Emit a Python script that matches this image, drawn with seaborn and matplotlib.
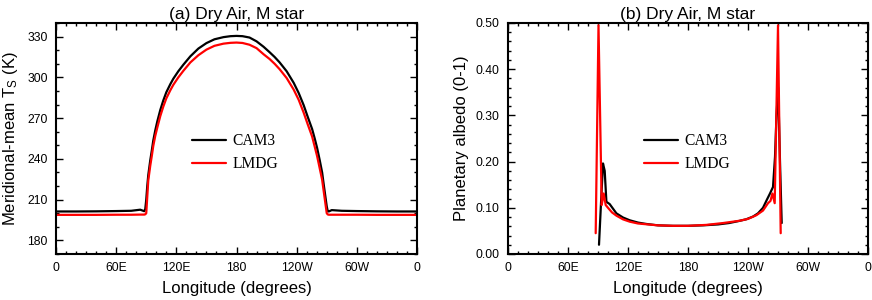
import matplotlib
matplotlib.use("Agg")
import matplotlib.pyplot as plt
from matplotlib.ticker import MultipleLocator, FixedLocator, FormatStrFormatter
import seaborn as sns

# (a) meridional-mean surface temperature (K)
lon_ts = [0, 20, 40, 60, 75, 84, 88, 89, 90, 91, 92, 94, 95.5, 97, 99, 101,
          104, 107, 110, 114, 117, 122, 127, 134, 142, 150, 158, 167, 174,
          180, 186, 193, 200, 207, 213, 218, 223, 230, 237, 242, 247, 251,
          255.4, 258, 260.4, 263, 265.4, 267, 268.5, 270, 271, 272, 275, 285,
          300, 320, 340, 360]
cam3_ts = [201.3, 201.3, 201.4, 201.6, 201.8, 202.6, 201.5, 203, 210, 220,
           228, 239, 246, 253.5, 261, 267.5, 276, 283, 289, 295, 299,
           304.5, 309.3, 315.5, 321.2, 325.2, 328, 329.6, 330.3, 330.5, 330.3,
           329.3, 326.5, 322.5, 318.5, 315, 311, 304.5, 296, 288.5, 279.5,
           271, 262, 255, 248, 239, 230, 221, 213, 205, 201.5, 201.3, 202.3,
           201.8, 201.6, 201.4, 201.3, 201.3]
lmdg_ts = [198.8, 198.8, 198.8, 198.9, 198.9, 199.0, 199.0, 199.2, 200, 212,
           224, 235, 242, 249.5, 257, 263, 271.5, 278.5, 284.5, 290.5, 294.5,
           300, 304.8, 311, 316.3, 320.4, 323.2, 324.8, 325.4, 325.6, 325.3,
           324, 321.5, 317, 313.5, 310, 306, 299.5, 291, 283.5, 274, 265.5,
           256.5, 249, 242, 233, 224.6, 216, 208, 200, 199.1, 198.9, 198.9,
           198.9, 198.9, 198.8, 198.8, 198.8]

# (b) planetary albedo (0-1), day side only
lon_alb_cam3 = [91, 93, 95, 96.7, 98.4, 101.7, 108.4, 115, 121.7, 130, 138.4,
                150, 165, 180, 195, 210, 221, 230, 238, 245, 250, 255, 259,
                262, 265, 267, 268.5, 270.2, 272, 273.7]
cam3_alb = [0.02, 0.11, 0.196, 0.18, 0.113, 0.108, 0.088, 0.079, 0.073, 0.068,
            0.065, 0.062, 0.061, 0.061, 0.062, 0.064, 0.067, 0.071, 0.075,
            0.081, 0.088, 0.1, 0.118, 0.131, 0.145, 0.21, 0.30, 0.36, 0.2,
            0.067]
lon_alb_lmdg = [87.7, 90.5, 93.7, 95.7, 97.7, 100, 104, 108.4, 115, 121.7, 130,
                140, 150, 165, 180, 198.4, 215, 231.7, 240, 248.4, 255, 260,
                262.5, 264.4, 266.7, 270, 272.7]
lmdg_alb = [0.045, 0.495, 0.106, 0.131, 0.106, 0.1, 0.09, 0.083, 0.075, 0.07,
            0.066, 0.064, 0.062, 0.061, 0.061, 0.063, 0.067, 0.072, 0.076,
            0.084, 0.094, 0.11, 0.115, 0.131, 0.11, 0.495, 0.045]

xtick_labels = ["0", "60E", "120E", "180", "120W", "60W", "0"]

sns.set_style("ticks")
plt.rcParams["font.family"] = ["Liberation Sans", "DejaVu Sans"]
plt.rcParams["mathtext.default"] = "regular"
for key in ["text.color", "axes.labelcolor", "axes.edgecolor",
            "xtick.color", "ytick.color"]:
    plt.rcParams[key] = "black"

fig = plt.figure(figsize=(8.72, 3.0), dpi=100)
ax1 = fig.add_axes([56 / 872, 46 / 300, 361 / 872, 231 / 300])
ax2 = fig.add_axes([508 / 872, 46 / 300, 360 / 872, 231 / 300])

sns.lineplot(x=lon_ts, y=cam3_ts, color="black", lw=1.6, label="CAM3", ax=ax1)
sns.lineplot(x=lon_ts, y=lmdg_ts, color="#ff0000", lw=1.6, label="LMDG", ax=ax1)
sns.lineplot(x=lon_alb_cam3, y=cam3_alb, color="black", lw=1.6, label="CAM3", ax=ax2)
sns.lineplot(x=lon_alb_lmdg, y=lmdg_alb, color="#ff0000", lw=1.6, label="LMDG", ax=ax2)


def style_axes(ax, title, ylabel):
    ax.set_xlim(0, 360)
    ax.xaxis.set_major_locator(FixedLocator(range(0, 361, 60)))
    ax.set_xticklabels(xtick_labels)
    ax.xaxis.set_minor_locator(MultipleLocator(10))
    ax.tick_params(which="both", direction="in", top=True, right=True,
                   labelsize=8.7, width=1.0, pad=6)
    ax.tick_params(which="major", length=5)
    ax.tick_params(which="minor", length=2.5)
    for sp in ax.spines.values():
        sp.set_linewidth(1.5)
    ax.set_title(title, fontsize=12.5, pad=3)
    ax.set_xlabel("Longitude (degrees)", fontsize=12, labelpad=5)
    ax.set_ylabel(ylabel, fontsize=12, labelpad=5)
    ax.legend(loc="center left", bbox_to_anchor=(0.377, 0.438), frameon=False,
              prop={"family": "Liberation Serif", "size": 11.2},
              handlelength=2.2, handletextpad=0.4, labelspacing=0.45,
              borderpad=0, borderaxespad=0)


ax1.set_ylim(170, 340)
ax1.yaxis.set_major_locator(FixedLocator(range(180, 331, 30)))
ax1.yaxis.set_minor_locator(MultipleLocator(10))
style_axes(ax1, "(a) Dry Air, M star", "Meridional-mean T$_S$ (K)")

ax2.set_ylim(0, 0.5)
ax2.yaxis.set_major_locator(MultipleLocator(0.1))
ax2.yaxis.set_minor_locator(MultipleLocator(0.02))
ax2.yaxis.set_major_formatter(FormatStrFormatter("%.2f"))
style_axes(ax2, "(b) Dry Air, M star", "Planetary albedo (0-1)")

fig.savefig("out.png", dpi=100)
